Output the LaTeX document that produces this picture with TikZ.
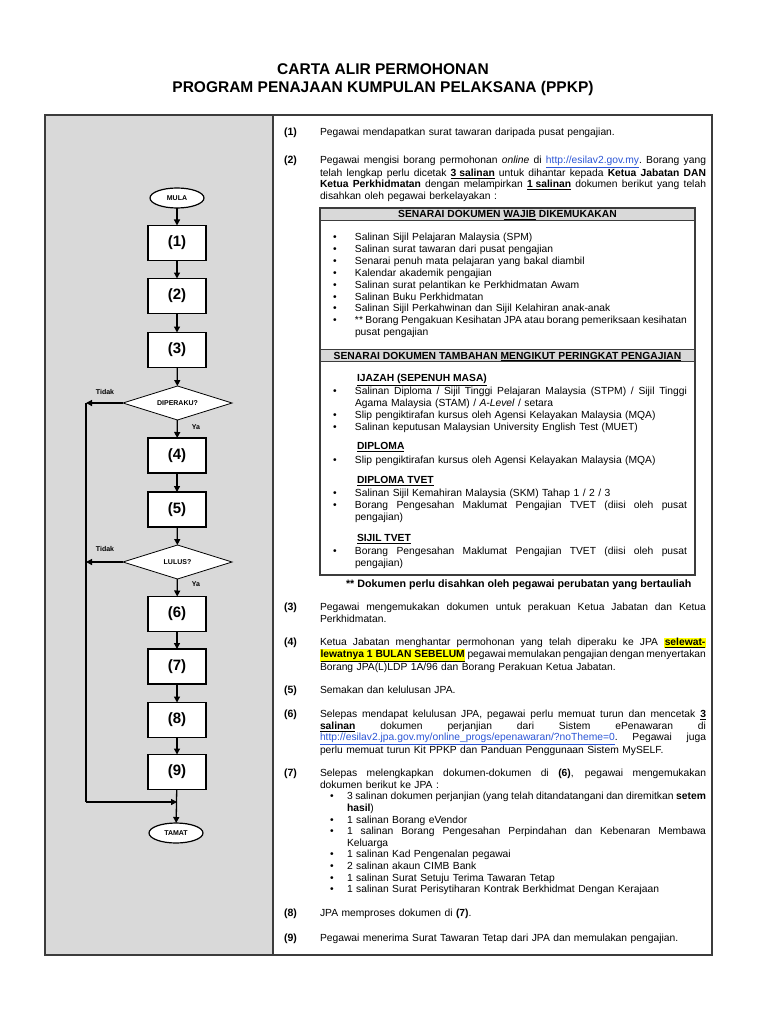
\documentclass[tikz,border=0pt]{standalone}
\usepackage{fontspec}
\setmainfont{Liberation Sans}
\usetikzlibrary{shapes.geometric,arrows.meta}
\definecolor{panel}{HTML}{D9D9D9}
\definecolor{framec}{HTML}{3C3C3C}
\definecolor{linkc}{HTML}{2B55D6}
\definecolor{hly}{HTML}{FFFF00}
\newcommand\undl[1]{\underline{#1}}
\newcommand\lnk[1]{\textcolor{linkc}{\underline{#1}}}
\newcommand\hlt[1]{{\setlength{\fboxsep}{0.6pt}\colorbox{hly}{\bfseries\underline{#1}}}}
\newcommand\jus[2]{{\spaceskip=0.278em plus 0.3em minus 0.11em\xspaceskip=\spaceskip\makebox[#1][s]{#2}}}
\newcommand\bul[1]{\makebox[#1][l]{•}}
\begin{document}
\begin{tikzpicture}[x=1pt,y=-1pt,
 every node/.style={inner sep=0pt,outer sep=0pt},
 body/.style={anchor=base west,text width=395pt,font=\fontsize{10.3}{11.6}\selectfont},
 lst/.style={anchor=base west,text width=370pt,font=\fontsize{10.3}{11.9}\selectfont},
 num/.style={anchor=base west,font=\fontsize{10.5}{11}\selectfont\bfseries},
 hdr/.style={anchor=base,font=\fontsize{10.3}{12}\selectfont\bfseries},
 sub/.style={anchor=base west,font=\fontsize{10.3}{12}\selectfont\bfseries},
 fnote/.style={anchor=base west,font=\fontsize{10.7}{12}\selectfont\bfseries},
 ttl/.style={anchor=base,font=\fontsize{15.5}{18}\selectfont\bfseries},
 proc/.style={draw=black,line width=1.2pt,fill=white,minimum width=58pt,minimum height=35pt,font=\fontsize{15}{16}\selectfont\bfseries},
 term/.style={ellipse,draw=black,line width=1.2pt,fill=white,minimum width=54pt,minimum height=20pt,font=\fontsize{7}{8}\selectfont\bfseries},
 dec/.style={diamond,draw=black,line width=0.8pt,fill=white,minimum width=109pt,minimum height=34pt,aspect=3.2,font=\fontsize{7}{8}\selectfont\bfseries},
 lab/.style={font=\fontsize{7}{8}\selectfont\bfseries},
 conn/.style={line width=1.3pt},
 arr/.style={conn,-{Triangle[length=6pt,width=6pt]}},
]
\useasboundingbox (0,0) rectangle (768,1024);
\fill[white] (0,0) rectangle (768,1024);
\fill[panel] (46,116) rectangle (273,954);
\draw[framec,line width=1.5pt] (45,115) rectangle (712,955);
\draw[framec,line width=1.2pt] (273,115) -- (273,955);

% title
\node[ttl] (title1) at (383,74.6) {CARTA ALIR PERMOHONAN};
\node[ttl] (title2) at (383,92.6) {PROGRAM PENAJAAN KUMPULAN PELAKSANA (PPKP)};

% flowchart
\node[term] (mula) at (177,198) {MULA};
\node[proc] (p1) at (177,243) {(1)};
\node[proc] (p2) at (177,296) {(2)};
\node[proc] (p3) at (177,350) {(3)};
\node[dec] (d1) at (177.5,403) {DIPERAKU?};
\node[proc] (p4) at (177,455.5) {(4)};
\node[proc] (p5) at (177,509.5) {(5)};
\node[dec] (d2) at (177.5,562) {LULUS?};
\node[proc] (p6) at (177,614) {(6)};
\node[proc] (p7) at (177,666.5) {(7)};
\node[proc] (p8) at (177,720) {(8)};
\node[proc] (p9) at (177,772) {(9)};
\node[term] (tamat) at (176,833) {TAMAT};
\coordinate (l1) at (86,403);
\coordinate (l2) at (86,562);
\coordinate (lb) at (86,802);
\coordinate (jn) at (177,802);
\node[lab] (tidak1) at (105,392) {Tidak};
\node[lab] (tidak2) at (105,549) {Tidak};
\node[lab] (ya1) at (196,427) {Ya};
\node[lab] (ya2) at (196,584) {Ya};

\draw[arr] (mula) -- (p1);
\draw[arr] (p1) -- (p2);
\draw[arr] (p2) -- (p3);
\draw[arr] (p3) -- (d1);
\draw[arr] (d1) -- (p4);
\draw[arr] (p4) -- (p5);
\draw[arr] (p5) -- (d2);
\draw[arr] (d2) -- (p6);
\draw[arr] (p6) -- (p7);
\draw[arr] (p7) -- (p8);
\draw[arr] (p8) -- (p9);
\draw[arr] (p9) -- (tamat);
\draw[arr] (d1.west) -- (l1);
\draw[arr] (d2.west) -- (l2);
\draw[conn] (l1) -- (lb);
\draw[arr] (lb) -- (jn);

% right column
\node[num] (n1) at (284,135.6) {(1)};
\node[body] (t1) at (320,135.6) {Pegawai mendapatkan surat tawaran daripada pusat pengajian.};

\node[num] (n2) at (284,163.6) {(2)};
\node[body] (t2) at (320,163.6) {\jus{386pt}{Pegawai mengisi borang permohonan \textit{online} di \lnk{http://esilav2.gov.my}. Borang yang}\\
\jus{386pt}{telah lengkap perlu dicetak \textbf{\undl{3 salinan}} untuk dihantar kepada \textbf{Ketua Jabatan DAN}}\\
\jus{386pt}{\textbf{Ketua Perkhidmatan} dengan melampirkan \textbf{\undl{1 salinan}} dokumen berikut yang telah}\\
disahkan oleh pegawai berkelayakan :};

% document box
\fill[panel] (320,208) rectangle (695,221);
\fill[panel] (320,349) rectangle (695,361);
\draw[framec,line width=1.2pt] (320,208) rectangle (695,575);
\draw[framec,line width=1pt] (320,221) -- (695,221);
\draw[framec,line width=1pt] (320,349) -- (695,349);
\draw[framec,line width=1pt] (320,361) -- (695,361);
\node[hdr] (h1) at (507.5,218) {SENARAI DOKUMEN \undl{WAJIB} DIKEMUKAKAN};
\node[lst] (w) at (333,240.6) {\bul{22pt}Salinan Sijil Pelajaran Malaysia (SPM)\\
\bul{22pt}Salinan surat tawaran dari pusat pengajian\\
\bul{22pt}Senarai penuh mata pelajaran yang bakal diambil\\
\bul{22pt}Kalendar akademik pengajian\\
\bul{22pt}Salinan surat pelantikan ke Perkhidmatan Awam\\
\bul{22pt}Salinan Buku Perkhidmatan\\
\bul{22pt}Salinan Sijil Perkahwinan dan Sijil Kelahiran anak-anak\\
\bul{22pt}\jus{332pt}{** Borang Pengakuan Kesihatan JPA atau borang pemeriksaan kesihatan}\\
\hspace*{22pt}pusat pengajian};
\node[hdr] (h2) at (507.5,359) {SENARAI DOKUMEN TAMBAHAN \undl{MENGIKUT PERINGKAT PENGAJIAN}};

\node[sub] (s1) at (357,381.6) {\undl{IJAZAH (SEPENUH MASA)}};
\node[lst] (s1l) at (333,394.6) {\bul{22pt}\jus{332pt}{Salinan Diploma / Sijil Tinggi Pelajaran Malaysia (STPM) / Sijil Tinggi}\\
\hspace*{22pt}Agama Malaysia (STAM) / \textit{A-Level} / setara\\
\bul{22pt}Slip pengiktirafan kursus oleh Agensi Kelayakan Malaysia (MQA)\\
\bul{22pt}Salinan keputusan Malaysian University English Test (MUET)};

\node[sub] (s2) at (357,449.6) {\undl{DIPLOMA}};
\node[lst] (s2l) at (333,463.6) {\bul{22pt}Slip pengiktirafan kursus oleh Agensi Kelayakan Malaysia (MQA)};

\node[sub] (s3) at (357,483.6) {\undl{DIPLOMA TVET}};
\node[lst] (s3l) at (333,496.6) {\bul{22pt}Salinan Sijil Kemahiran Malaysia (SKM) Tahap 1 / 2 / 3\\
\bul{22pt}\jus{332pt}{Borang Pengesahan Maklumat Pengajian TVET (diisi oleh pusat}\\
\hspace*{22pt}pengajian)};

\node[sub] (s4) at (357,541.6) {\undl{SIJIL TVET}};
\node[lst] (s4l) at (333,554.6) {\bul{22pt}\jus{332pt}{Borang Pengesahan Maklumat Pengajian TVET (diisi oleh pusat}\\
\hspace*{22pt}pengajian)};

\node[fnote] (fn) at (346,587.6) {** Dokumen perlu disahkan oleh pegawai perubatan yang bertauliah};

\node[num] (n3) at (284,610.6) {(3)};
\node[body] (t3) at (320,610.6) {\jus{386pt}{Pegawai mengemukakan dokumen untuk perakuan Ketua Jabatan dan Ketua}\\
Perkhidmatan.};

\node[num] (n4) at (284,645.6) {(4)};
\node[body] (t4) at (320,645.6) {\jus{386pt}{Ketua Jabatan menghantar permohonan yang telah diperaku ke JPA \hlt{selewat-}}\\
\jus{386pt}{\hlt{lewatnya 1 BULAN SEBELUM} pegawai memulakan pengajian dengan menyertakan}\\
Borang JPA(L)LDP 1A/96 dan Borang Perakuan Ketua Jabatan.};

\node[num] (n5) at (284,693.6) {(5)};
\node[body] (t5) at (320,693.6) {Semakan dan kelulusan JPA.};

\node[num] (n6) at (284,717.6) {(6)};
\node[body] (t6) at (320,717.6) {\jus{386pt}{Selepas mendapat kelulusan JPA, pegawai perlu memuat turun dan mencetak \textbf{\undl{3}}}\\
\jus{386pt}{\textbf{\undl{salinan}} dokumen perjanjian dari Sistem ePenawaran di}\\
\jus{386pt}{\lnk{http://esilav2.jpa.gov.my/online\_progs/epenawaran/?noTheme=0}. Pegawai juga}\\
perlu memuat turun Kit PPKP dan Panduan Penggunaan Sistem MySELF.};

\node[num] (n7) at (284,776.6) {(7)};
\node[body] (t7) at (320,776.6) {\jus{386pt}{Selepas melengkapkan dokumen-dokumen di \textbf{(6)}, pegawai mengemukakan}\\
dokumen berikut ke JPA :\\
\hspace*{10pt}\bul{17pt}\jus{359pt}{3 salinan dokumen perjanjian (yang telah ditandatangani dan diremitkan \textbf{setem}}\\
\hspace*{27pt}\textbf{hasil})\\
\hspace*{10pt}\bul{17pt}1 salinan Borang eVendor\\
\hspace*{10pt}\bul{17pt}\jus{359pt}{1 salinan Borang Pengesahan Perpindahan dan Kebenaran Membawa}\\
\hspace*{27pt}Keluarga\\
\hspace*{10pt}\bul{17pt}1 salinan Kad Pengenalan pegawai\\
\hspace*{10pt}\bul{17pt}2 salinan akaun CIMB Bank\\
\hspace*{10pt}\bul{17pt}1 salinan Surat Setuju Terima Tawaran Tetap\\
\hspace*{10pt}\bul{17pt}1 salinan Surat Perisytiharan Kontrak Berkhidmat Dengan Kerajaan};

\node[num] (n8) at (284,916.6) {(8)};
\node[body] (t8) at (320,916.6) {JPA memproses dokumen di \textbf{(7)}.};

\node[num] (n9) at (284,941.6) {(9)};
\node[body] (t9) at (320,941.6) {Pegawai menerima Surat Tawaran Tetap dari JPA dan memulakan pengajian.};
\end{tikzpicture}
\end{document}
